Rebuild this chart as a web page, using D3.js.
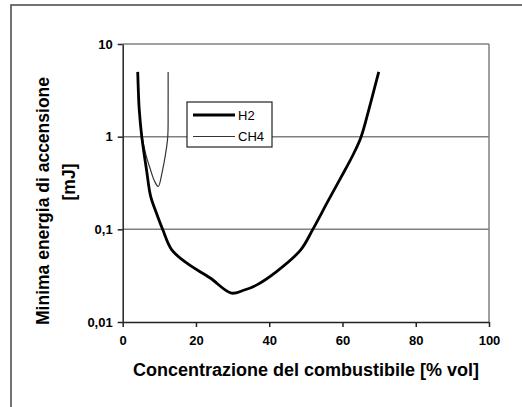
<!DOCTYPE html>
<html>
<head>
<meta charset="utf-8">
<script src="https://cdn.jsdelivr.net/npm/d3@7"></script>
<style>
  body { margin: 0; background: #fff; }
  svg { display: block; font-family: "Liberation Sans", Arial, sans-serif; }
</style>
</head>
<body>
<svg id="chart"></svg>
<script>
// Data
const h2Conc = [4.1, 4.3, 4.5, 5.2, 6.5, 7.6, 9.2, 10.9, 13.4, 17.9, 23.8, 29.7, 33, 36.5, 42, 48.6, 51.9, 56, 59.7, 63, 65.1, 67.4, 69.9];
const h2Energy = [5, 2.9, 2, 1, 0.44, 0.23, 0.15, 0.1, 0.06, 0.042, 0.03, 0.0205, 0.022, 0.025, 0.035, 0.06, 0.1, 0.2, 0.37, 0.65, 1, 2.1, 5];
const ch4Conc = [4.2, 4.5, 5.3, 6.2, 7.5, 8.7, 9.7, 10.8, 11.7, 12.3, 12.4, 12.4];
const ch4Energy = [5, 2, 1, 0.67, 0.45, 0.33, 0.29, 0.42, 0.65, 1, 2, 5];
const xTicks = [0, 20, 40, 60, 80, 100];
const yTicks = [0.01, 0.1, 1, 10];
const seriesNames = ["H2", "CH4"];

const width = 522, height = 407;
const margin = { top: 44, right: 33, bottom: 85, left: 122.7 };

const svg = d3.select("#chart").attr("width", width).attr("height", height);

// outer frame
svg.append("rect")
  .attr("x", 11).attr("y", 5)
  .attr("width", width).attr("height", height)
  .attr("fill", "none")
  .attr("stroke", "#444")
  .attr("stroke-width", 1.5);

const x = d3.scaleLinear().domain([0, 100]).range([margin.left, width - margin.right]);
const y = d3.scaleLog().domain([0.01, 10]).range([height - margin.bottom, margin.top]);

const fmt = d => String(d).replace(".", ",");

// gridlines
svg.append("g")
  .selectAll("line")
  .data(yTicks.filter(d => d > 0.01))
  .join("line")
  .attr("x1", x(0)).attr("x2", x(100))
  .attr("y1", d => y(d)).attr("y2", d => y(d))
  .attr("stroke", "#808080")
  .attr("stroke-width", 1.5);

// right border of plot area
svg.append("line")
  .attr("x1", x(100)).attr("x2", x(100))
  .attr("y1", y(10)).attr("y2", y(0.01))
  .attr("stroke", "#808080")
  .attr("stroke-width", 1.5);

// axes
const xAxis = d3.axisBottom(x).tickValues(xTicks).tickSize(5).tickSizeOuter(0).tickFormat(d3.format("d"));
const yAxis = d3.axisLeft(y).tickValues(yTicks).tickSize(5).tickSizeOuter(0).tickFormat(fmt);

const xAxisG = svg.append("g")
  .attr("transform", `translate(0,${y(0.01)})`)
  .call(xAxis);
const yAxisG = svg.append("g")
  .attr("transform", `translate(${x(0)},0)`)
  .call(yAxis);

[xAxisG, yAxisG].forEach(g => {
  g.select(".domain").attr("stroke", "#222").attr("stroke-width", 1.5);
  g.selectAll(".tick line").attr("stroke", "#222").attr("stroke-width", 1.5);
  g.selectAll(".tick text")
    .attr("fill", "#000")
    .style("font-size", "13px")
    .style("font-weight", "bold")
    .style("font-family", "'Liberation Sans', Arial, sans-serif");
});
xAxisG.selectAll(".tick text").attr("y", 14);
yAxisG.selectAll(".tick text").attr("x", -10);

// lines
const line = d3.line()
  .x(d => x(d[0]))
  .y(d => y(d[1]))
  .curve(d3.curveCatmullRom.alpha(0.5));

const h2 = d3.zip(h2Conc, h2Energy);
const ch4 = d3.zip(ch4Conc, ch4Energy);

svg.append("path")
  .datum(ch4)
  .attr("d", line)
  .attr("fill", "none")
  .attr("stroke", "#333")
  .attr("stroke-width", 1.2);

svg.append("path")
  .datum(h2)
  .attr("d", line)
  .attr("fill", "none")
  .attr("stroke", "#000")
  .attr("stroke-width", 2.8)
  .attr("stroke-linejoin", "round");

// legend
const legend = svg.append("g").attr("transform", "translate(187,102)");
legend.append("rect")
  .attr("width", 85).attr("height", 45)
  .attr("fill", "#fff")
  .attr("stroke", "#222")
  .attr("stroke-width", 1.2);
const legendWidths = [2.8, 1.2];
seriesNames.forEach((name, i) => {
  const ly = 13 + i * 21.5;
  legend.append("line")
    .attr("x1", 6).attr("x2", 48)
    .attr("y1", ly).attr("y2", ly)
    .attr("stroke", i === 0 ? "#000" : "#333")
    .attr("stroke-width", legendWidths[i]);
  legend.append("text")
    .attr("x", 51).attr("y", ly + 4.5)
    .style("font-size", "13px")
    .text(name);
});

// axis titles
svg.append("text")
  .attr("x", 306).attr("y", 376)
  .attr("text-anchor", "middle")
  .style("font-size", "18px")
  .style("font-weight", "bold")
  .text("Concentrazione del combustibile [% vol]");

svg.append("text")
  .attr("transform", "translate(49,201) rotate(-90)")
  .attr("text-anchor", "middle")
  .style("font-size", "17.5px")
  .style("font-weight", "bold")
  .text("Minima energia di accensione");

svg.append("text")
  .attr("transform", "translate(75,182) rotate(-90)")
  .attr("text-anchor", "middle")
  .style("font-size", "17.5px")
  .style("font-weight", "bold")
  .text("[mJ]");
</script>
</body>
</html>
